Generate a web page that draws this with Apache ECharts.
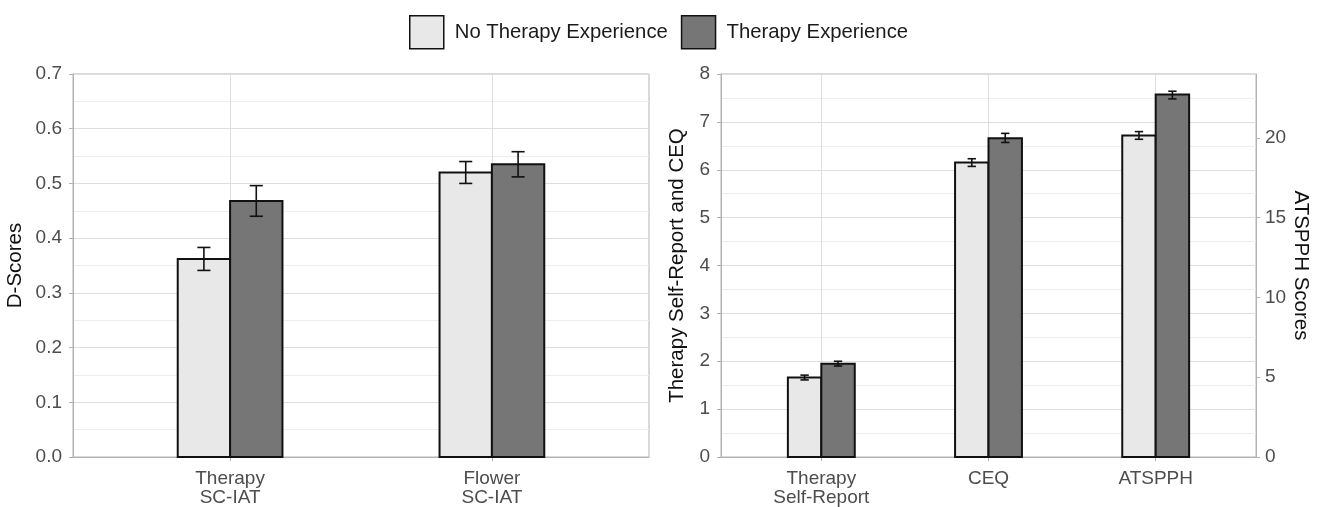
<!DOCTYPE html>
<html>
<head>
<meta charset="utf-8">
<script src="https://cdn.jsdelivr.net/npm/echarts@6/dist/echarts.min.js"></script>
<style>
html,body{margin:0;padding:0;background:#fff;}
#chart{width:1322px;height:507px;}
</style>
</head>
<body>
<div id="chart"></div>
<script>
// ---- data ----
const groupNames = ['No Therapy Experience', 'Therapy Experience'];

const leftCategories = ['Therapy\nSC-IAT', 'Flower\nSC-IAT'];
const leftNoTherapy = [0.362, 0.520];
const leftNoTherapyLow = [0.341, 0.500];
const leftNoTherapyHigh = [0.383, 0.540];
const leftTherapy = [0.468, 0.535];
const leftTherapyLow = [0.440, 0.512];
const leftTherapyHigh = [0.496, 0.558];

const rightCategories = ['Therapy\nSelf-Report', 'CEQ', 'ATSPPH'];
// Therapy Self-Report and CEQ (primary axis)
const rightNoTherapy = [1.66, 6.15];
const rightNoTherapyLow = [1.61, 6.07];
const rightNoTherapyHigh = [1.71, 6.23];
const rightTherapy = [1.95, 6.66];
const rightTherapyLow = [1.90, 6.57];
const rightTherapyHigh = [2.00, 6.76];
// ATSPPH (secondary axis)
const atspphNoTherapy = [20.14];
const atspphNoTherapyLow = [19.91];
const atspphNoTherapyHigh = [20.39];
const atspphTherapy = [22.71];
const atspphTherapyLow = [22.44];
const atspphTherapyHigh = [22.92];

const leftTicks = [0, 0.1, 0.2, 0.3, 0.4, 0.5, 0.6, 0.7];
const rightTicks = [0, 1, 2, 3, 4, 5, 6, 7, 8];
const atspphTicks = [0, 5, 10, 15, 20];

// ---- styling ----
const FONT = "'Liberation Sans', Arial, sans-serif";
const fills = ['#e8e8e8', '#767676'];
const offsets = [-0.1, 0.1];
const BAR_W = 0.2, CAP_W = 0.05;
const gridCol = '#dedede', minorCol = '#eeeeee', axisCol = '#b3b3b3', labCol = '#4d4d4d';
const TICK_FS = 19, TITLE_FS = 20.5;

function rows(startX, vals, lo, hi) {
  return vals.map((v, i) => [startX + i, v, lo[i], hi[i]]);
}

function makeRender(gi) {
  return function (params, api) {
    const x = api.value(0) + offsets[gi];
    const y = api.value(1), lo = api.value(2), hi = api.value(3);
    const p0 = api.coord([x - BAR_W / 2, 0]);
    const p1 = api.coord([x + BAR_W / 2, y]);
    const cLo = api.coord([x, lo]), cHi = api.coord([x, hi]);
    const capL = api.coord([x - CAP_W / 2, lo])[0], capR = api.coord([x + CAP_W / 2, lo])[0];
    const ls = { stroke: '#111', lineWidth: 1.6 };
    return {
      type: 'group',
      children: [
        { type: 'rect', shape: { x: p0[0], y: p1[1], width: p1[0] - p0[0], height: p0[1] - p1[1] },
          style: { fill: fills[gi], stroke: '#111', lineWidth: 2 } },
        { type: 'line', shape: { x1: cLo[0], y1: cLo[1], x2: cHi[0], y2: cHi[1] }, style: ls },
        { type: 'line', shape: { x1: capL, y1: cLo[1], x2: capR, y2: cLo[1] }, style: ls },
        { type: 'line', shape: { x1: capL, y1: cHi[1], x2: capR, y2: cHi[1] }, style: ls }
      ]
    };
  };
}

function series(name, gi, xAxisIndex, yAxisIndex, data) {
  return {
    type: 'custom', name: name, xAxisIndex: xAxisIndex, yAxisIndex: yAxisIndex,
    renderItem: makeRender(gi), data: data, clip: false,
    itemStyle: { color: fills[gi], borderColor: '#111', borderWidth: 1.5 },
    encode: { x: 0, y: [1, 2, 3] }, silent: true
  };
}

function xAxis(gridIndex, cats) {
  const vals = cats.map((c, i) => i + 1);
  return {
    type: 'value', gridIndex: gridIndex, min: 0.4, max: cats.length + 0.6,
    axisLine: { show: true, lineStyle: { color: axisCol, width: 1 } },
    axisTick: { show: true, customValues: vals, length: 4, lineStyle: { color: axisCol } },
    axisLabel: { customValues: vals, formatter: v => cats[Math.round(v) - 1], color: labCol,
      fontSize: TICK_FS, lineHeight: 19, margin: 12, fontFamily: FONT },
    splitLine: { show: true, customValues: vals, lineStyle: { color: gridCol, width: 1 } }
  };
}

function yAxis(gridIndex, ticks, name, nameGap, fmt) {
  return {
    type: 'value', gridIndex: gridIndex, min: ticks[0], max: ticks[ticks.length - 1],
    interval: ticks[1] - ticks[0],
    name: name, nameLocation: 'middle', nameGap: nameGap,
    nameTextStyle: { color: '#111', fontSize: TITLE_FS, fontFamily: FONT },
    axisLine: { show: true, lineStyle: { color: axisCol, width: 1 } },
    axisTick: { show: true, length: 4, lineStyle: { color: axisCol } },
    axisLabel: { color: labCol, fontSize: TICK_FS, margin: 11, fontFamily: FONT, formatter: fmt },
    splitLine: { show: true, lineStyle: { color: gridCol, width: 1 } },
    minorTick: { show: false, splitNumber: 2 },
    minorSplitLine: { show: true, lineStyle: { color: minorCol, width: 1 } }
  };
}

const chart = echarts.init(document.getElementById('chart'), null, { renderer: 'canvas' });
chart.setOption({
  animation: false,
  backgroundColor: '#ffffff',
  textStyle: { fontFamily: FONT },
  legend: {
    data: groupNames, top: 15, left: 409, padding: 0, icon: 'rect',
    itemWidth: 34, itemHeight: 33, itemGap: 13,
    itemStyle: { borderColor: '#111', borderWidth: 1.5 },
    textStyle: { fontSize: 20.3, color: '#1a1a1a', fontFamily: FONT, padding: [0, 0, 0, 6] }
  },
  grid: [
    { left: 73, top: 74, width: 576, height: 384, show: true, borderColor: axisCol, borderWidth: 1, backgroundColor: 'transparent' },
    { left: 721, top: 74, width: 535, height: 384, show: true, borderColor: axisCol, borderWidth: 1, backgroundColor: 'transparent' }
  ],
  xAxis: [xAxis(0, leftCategories), xAxis(1, rightCategories)],
  yAxis: [
    yAxis(0, leftTicks, 'D-Scores', 47, v => v.toFixed(1)),
    yAxis(1, rightTicks, 'Therapy Self-Report and CEQ', 33, v => String(v)),
    {
      type: 'value', gridIndex: 1, position: 'right', min: 0, max: rightTicks[rightTicks.length - 1] * 3,
      name: 'ATSPPH Scores', nameLocation: 'middle', nameGap: 32, nameRotate: -90,
      nameTextStyle: { color: '#111', fontSize: TITLE_FS, fontFamily: FONT },
      axisLine: { show: true, lineStyle: { color: axisCol, width: 1 } },
      axisTick: { show: true, length: 4, customValues: atspphTicks, lineStyle: { color: axisCol } },
      axisLabel: { customValues: atspphTicks, color: labCol, fontSize: TICK_FS, margin: 9, fontFamily: FONT },
      splitLine: { show: false }
    }
  ],
  series: [
    series(groupNames[0], 0, 0, 0, rows(1, leftNoTherapy, leftNoTherapyLow, leftNoTherapyHigh)),
    series(groupNames[1], 1, 0, 0, rows(1, leftTherapy, leftTherapyLow, leftTherapyHigh)),
    series(groupNames[0], 0, 1, 1, rows(1, rightNoTherapy, rightNoTherapyLow, rightNoTherapyHigh)),
    series(groupNames[1], 1, 1, 1, rows(1, rightTherapy, rightTherapyLow, rightTherapyHigh)),
    series(groupNames[0], 0, 1, 2, rows(3, atspphNoTherapy, atspphNoTherapyLow, atspphNoTherapyHigh)),
    series(groupNames[1], 1, 1, 2, rows(3, atspphTherapy, atspphTherapyLow, atspphTherapyHigh))
  ]
});
</script>
</body>
</html>
